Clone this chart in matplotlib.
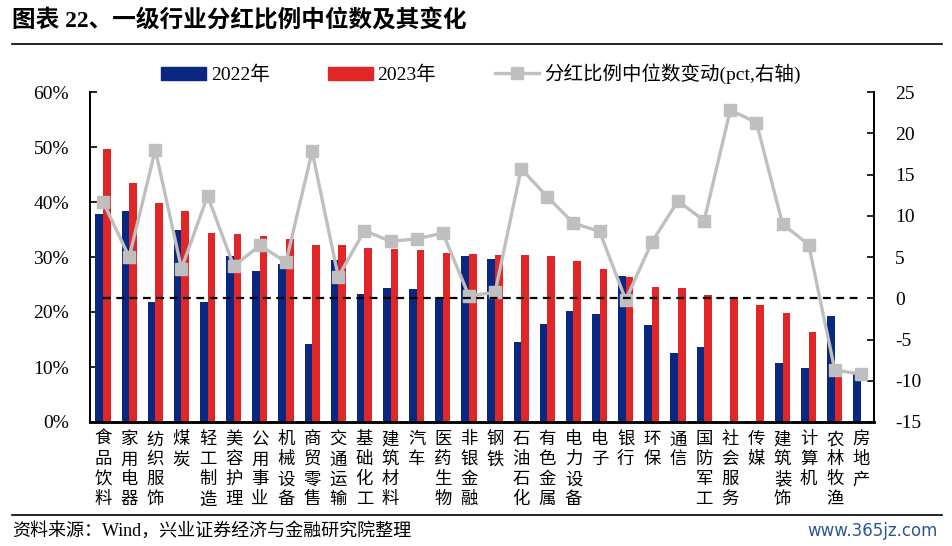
import numpy as np
import matplotlib
matplotlib.use("Agg")
import matplotlib.pyplot as plt
from matplotlib.lines import Line2D
from matplotlib.patches import Patch
from matplotlib.ticker import FuncFormatter, MultipleLocator

plt.rcParams['font.family'] = ['Liberation Serif', 'Noto Sans CJK SC']

# data
cats = ['食品饮料', '家用电器', '纺织服饰', '煤炭', '轻工制造', '美容护理', '公用事业', '机械设备',
        '商贸零售', '交通运输', '基础化工', '建筑材料', '汽车', '医药生物', '非银金融', '钢铁',
        '石油石化', '有色金属', '电力设备', '电子', '银行', '环保', '通信', '国防军工',
        '社会服务', '传媒', '建筑装饰', '计算机', '农林牧渔', '房地产']
v2022 = [37.9, 38.4, 21.9, 35.0, 21.9, 30.1, 27.5, 28.7, 14.2, 29.5, 23.3, 24.4, 24.1, 22.8, 30.2,
         29.7, 14.6, 17.9, 20.1, 19.7, 26.5, 17.7, 12.6, 13.7, 0, 0, 10.7, 9.9, 19.2, 8.8]
v2023 = [49.7, 43.5, 39.9, 38.4, 34.4, 34.1, 33.9, 33.2, 32.2, 32.1, 31.7, 31.5, 31.2, 30.8, 30.6,
         30.4, 30.4, 30.2, 29.3, 27.9, 26.3, 24.6, 24.4, 23.1, 22.8, 21.3, 19.9, 16.4, 10.4, 0]
chg = [11.7, 5.0, 18.0, 3.6, 12.4, 3.9, 6.4, 4.4, 17.8, 2.6, 8.2, 6.9, 7.2, 7.9, 0.3,
       0.7, 15.7, 12.3, 9.1, 8.1, -0.2, 6.8, 11.8, 9.4, 22.8, 21.3, 9.0, 6.5, -8.7, -9.2]

blue = '#0A2882'
red = '#E02626'
grey = '#BFBFBF'

W, H = 952, 546
fig = plt.figure(figsize=(W / 100, H / 100), dpi=100)
ax = fig.add_axes([90 / W, 1 - 422 / H, (874 - 90) / W, (422 - 92) / H])
ax2 = ax.twinx()

x = np.arange(len(cats))
bw = 0.29
ax.bar(x - bw, v2022, width=bw, align='edge', color=blue, zorder=2)
ax.bar(x, v2023, width=bw, align='edge', color=red, zorder=2)

ax.set_xlim(-0.5, len(cats) - 0.5)
ax.set_ylim(0, 60)
ax.yaxis.set_major_locator(MultipleLocator(10))
ax.yaxis.set_major_formatter(FuncFormatter(lambda v, p: f"{v:.0f}%"))

ax2.set_ylim(-15, 25)
ax2.yaxis.set_major_locator(MultipleLocator(5))
ax2.yaxis.set_major_formatter(FuncFormatter(lambda v, p: f"{v:.0f}"))

# zero line of the right axis
ax2.plot(x, np.zeros(len(x)), color='black', lw=1.6, ls=(0, (3.5, 2.5)), zorder=4)
ax2.plot(x, chg, color=grey, lw=2.4, marker='s', markersize=8, zorder=3)

ax.set_xticks(x)
ax.set_xticklabels(['\n'.join(c) for c in cats], fontsize=12.5, linespacing=1.14,
                   va='top', family=['Noto Sans CJK SC'])
ax.tick_params(axis='x', length=0, pad=6)
ax.tick_params(axis='y', direction='in', length=5, width=1.2, pad=15, labelsize=14)
ax2.tick_params(axis='y', direction='in', length=5, width=1.2, pad=15, labelsize=14)

for a in (ax, ax2):
    a.spines['top'].set_visible(False)
    a.spines['left'].set_linewidth(1.3)
    a.spines['right'].set_linewidth(1.3)
    a.spines['bottom'].set_linewidth(1.8)

handles = [Patch(color=blue), Patch(color=red),
           Line2D([], [], color=grey, lw=2.4, marker='s', markersize=8)]
labels = ['2022年', '2023年', '分红比例中位数变动(pct,右轴)']
fig.legend(handles, labels, ncol=3, loc='center', bbox_to_anchor=(481 / W, 1 - 74 / H),
           frameon=False, fontsize=14, handlelength=2.3, handletextpad=0.25,
           columnspacing=3.0)

fig.text(12 / W, 1 - 21 / H, '图表 22、一级行业分红比例中位数及其变化', fontsize=17,
         fontweight='bold', va='center', ha='left')
fig.add_artist(Line2D([12 / W, 942 / W], [1 - 44 / H, 1 - 44 / H], color='black', lw=1.2))
fig.add_artist(Line2D([12 / W, 942 / W], [1 - 515 / H, 1 - 515 / H], color='black', lw=1.2))
fig.text(12 / W, 1 - 531 / H, '资料来源：Wind，兴业证券经济与金融研究院整理', fontsize=13,
         va='center', ha='left')
fig.text(938 / W, 1 - 531 / H, 'www.365jz.com', fontsize=12, color='#2B5797',
         va='center', ha='right', family=['DejaVu Sans'])

fig.savefig('out.png', dpi=100)
